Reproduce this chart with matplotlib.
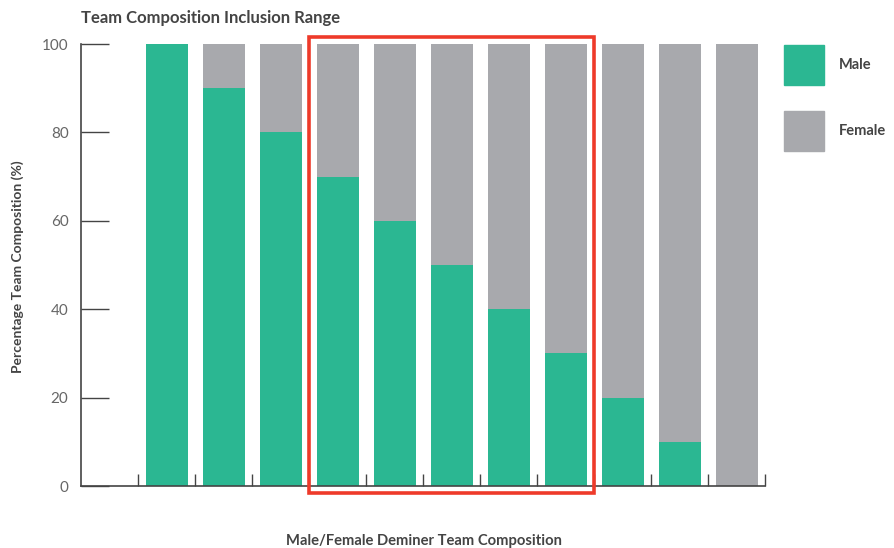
import numpy as np
import matplotlib.pyplot as plt
from matplotlib.patches import Rectangle

plt.rcParams['font.family'] = ['Lato', 'DejaVu Sans']

# team mix, percent male per team
male = [100, 90, 80, 70, 60, 50, 40, 30, 20, 10, 0]
female = [100 - m for m in male]
yticks = [0, 20, 40, 60, 80, 100]

green = '#2bb792'
grey = '#a8a9ad'
ink = '#444444'

fig = plt.figure(figsize=(8.94, 5.48), dpi=100)
ax = fig.add_axes([81/894, 62/548, 684/894, 442/548])

x = np.arange(len(male))
w = 42/57
ax.bar(x, male, width=w, color=green, label='Male', zorder=2)
ax.bar(x, female, bottom=male, width=w, color=grey, label='Female', zorder=2)

ax.set_xlim(-1.5, len(male) - 0.5)
ax.set_ylim(0, 100)
for s in ['top', 'right']:
    ax.spines[s].set_visible(False)
for s in ['left', 'bottom']:
    ax.spines[s].set_color(ink)
    ax.spines[s].set_linewidth(1.2)

ax.set_xticks(np.arange(-0.5, len(male), 1))
ax.set_xticklabels([])
ax.tick_params(axis='x', direction='in', length=9, width=1, color=ink)
ax.set_yticks(yticks)
ax.tick_params(axis='y', direction='in', length=20, width=1, color=ink,
               labelsize=11, labelcolor='#666666', pad=9)

fig.text(81/894, 1 - 18/548, 'Team Composition Inclusion Range',
         fontsize=12, fontweight='bold', color=ink, va='center')
fig.text(18/894, 1 - 267/548, 'Percentage Team Composition (%)',
         fontsize=10, fontweight='bold', color=ink, rotation=90,
         ha='center', va='center')
fig.text(424/894, 1 - 541/548, 'Male/Female Deminer Team Composition',
         fontsize=10.6, fontweight='bold', color=ink, ha='center', va='center')

# highlighted middle range
hl = Rectangle((2.5, -1.6), 5, 103.2, fill=False, edgecolor='#ee3a2a',
               linewidth=2.6, clip_on=False, zorder=5)
ax.add_patch(hl)

# legend as swatches on the right
fig.patches.append(Rectangle((784/894, 1 - 85/548), 40/894, 40/548,
                             color=green, transform=fig.transFigure))
fig.patches.append(Rectangle((784/894, 1 - 151/548), 40/894, 40/548,
                             color=grey, transform=fig.transFigure))
fig.text(839/894, 1 - 65/548, 'Male', fontsize=10.5, fontweight='bold',
         color=ink, va='center')
fig.text(839/894, 1 - 131/548, 'Female', fontsize=10.5, fontweight='bold',
         color=ink, va='center')

fig.savefig('out.png', dpi=100)
